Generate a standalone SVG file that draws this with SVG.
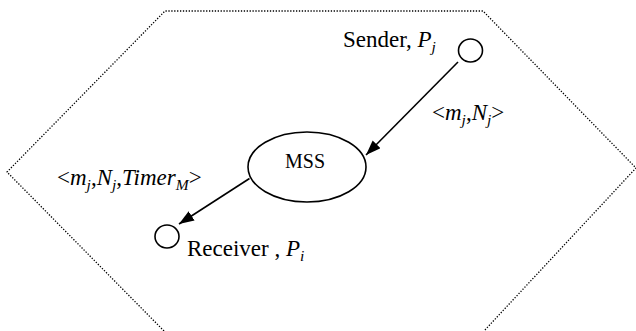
<svg xmlns="http://www.w3.org/2000/svg" width="636" height="331" viewBox="0 0 636 331">
<defs>
<style>
.t{font-family:"Liberation Serif","Times New Roman",serif;font-size:23px;fill:#000}
.i{font-style:italic}
.s{font-size:15.5px}
.node{fill:#fff;stroke:#000;stroke-width:1.6}
.conn{stroke:#000;stroke-width:1.6;fill:none}
.hex{fill:none;stroke:#000;stroke-width:1.3;stroke-dasharray:1.3 1.6}
</style>
<marker id="arr" markerUnits="userSpaceOnUse" markerWidth="16" markerHeight="12" refX="15" refY="5.5" orient="auto">
<path d="M0,0 L15,5.5 L0,11 z" fill="#000"/>
</marker>
</defs>
<polyline class="hex" points="164,331 7,172 165,11 483,11 636,168 484,331"/>
<g id="sender">
<ellipse class="node" cx="470.5" cy="50.5" rx="12" ry="11.5"/>
<text class="t" x="343" y="47">Sender, <tspan class="i">P</tspan><tspan class="i s" dy="5">j</tspan></text>
</g>
<g id="mss">
<ellipse class="node" cx="307" cy="167" rx="59" ry="35"/>
<text class="t" x="305" y="168" text-anchor="middle" style="font-size:20px">MSS</text>
</g>
<g id="receiver">
<ellipse class="node" cx="167" cy="236.5" rx="12" ry="11.5"/>
<text class="t" x="187" y="256">Receiver , <tspan class="i">P</tspan><tspan class="i s" dy="5">i</tspan></text>
</g>
<g id="connectors">
<line class="conn" x1="458" y1="62" x2="366" y2="155" marker-end="url(#arr)"/>
<line class="conn" x1="249.5" y1="178.5" x2="179" y2="224" marker-end="url(#arr)"/>
<text class="t" x="432" y="120">&lt;<tspan class="i">m</tspan><tspan class="i s" dy="5">j</tspan><tspan dy="-5">,</tspan><tspan class="i">N</tspan><tspan class="i s" dy="5">j</tspan><tspan dy="-5">&gt;</tspan></text>
<text class="t" x="57" y="185">&lt;<tspan class="i">m</tspan><tspan class="i s" dy="5">j</tspan><tspan dy="-5">,</tspan><tspan class="i">N</tspan><tspan class="i s" dy="5">j</tspan><tspan dy="-5">,</tspan><tspan class="i">Timer</tspan><tspan class="i s" dy="5">M</tspan><tspan dy="-5">&gt;</tspan></text>
</g>
</svg>
